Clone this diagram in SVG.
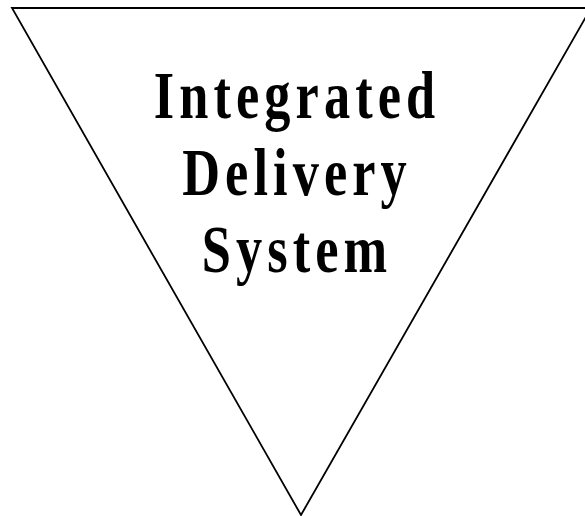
<svg xmlns="http://www.w3.org/2000/svg" width="585" height="516" viewBox="0 0 585 516">
<style>
.tri{fill:#fff;stroke:#000;stroke-width:1.8;stroke-linejoin:miter}
.lbl{font-family:"Liberation Serif","Times New Roman",serif;font-weight:bold;font-size:68px;fill:#000;text-anchor:middle;letter-spacing:6.6px}
</style>
<rect width="585" height="516" fill="#fff"/>
<g id="triangle">
<polygon class="tri" points="12,8 591,8 301,515"/>
<g transform="translate(297,0) scale(0.77,1)">
<text class="lbl" x="0" y="118">Integrated</text>
<text class="lbl" x="0" y="195">Delivery</text>
<text class="lbl" x="0" y="272">System</text>
</g>
</g>
</svg>
